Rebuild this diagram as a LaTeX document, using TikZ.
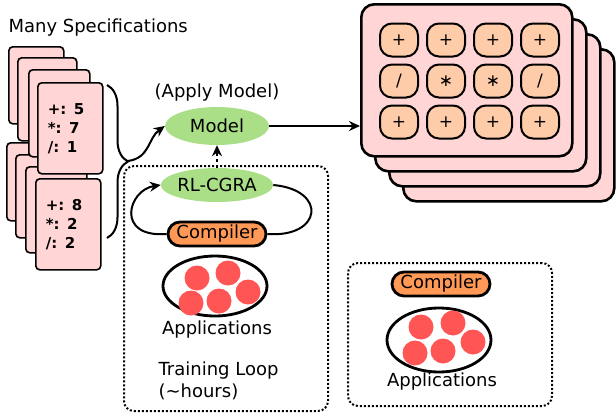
\documentclass[tikz,border=0pt]{standalone}
\usepackage{fontspec}
\setmainfont{DejaVu Sans}
\usetikzlibrary{arrows.meta,decorations.pathreplacing,shapes.geometric}

\definecolor{cardpink}{HTML}{FFD5D5}
\definecolor{modelgreen}{HTML}{AADE87}
\definecolor{comporange}{HTML}{FF9955}
\definecolor{appred}{HTML}{FF5555}
\definecolor{cellpeach}{HTML}{FFCCAA}

\tikzset{
  card/.style={draw, fill=cardpink, rounded corners=4pt, line width=1.6pt, anchor=north west, inner sep=0pt},
  spec/.style={card, inner xsep=10pt, text width=45pt, minimum height=91pt, align=left,
    font=\bfseries\fontsize{15}{19}\selectfont},
  panel/.style={draw, fill=cardpink, rounded corners=13pt, line width=2.6pt,
    minimum width=211pt, minimum height=152pt, anchor=north west},
  cell/.style={draw, fill=cellpeach, rounded corners=12pt, line width=2pt,
    minimum width=38pt, minimum height=33pt, font=\fontsize{17}{17}\selectfont},
  blob/.style={ellipse, fill=modelgreen, minimum width=104pt, minimum height=38pt, inner sep=0pt},
  pill/.style={draw, fill=comporange, rounded corners=12pt, line width=2.8pt,
    minimum width=98pt, minimum height=24pt, inner sep=0pt},
  apps/.style={draw, ellipse, line width=2.8pt, minimum width=104pt, minimum height=60pt},
  app/.style={circle, fill=appred, minimum size=25pt, inner sep=0pt},
  loopbox/.style={draw, dotted, line width=2pt, rounded corners=10pt, anchor=north west},
  flow/.style={line width=2pt, -{Stealth[length=11pt,width=10pt]}},
  lbl/.style={font=\fontsize{18}{22}\selectfont},
}

\begin{document}
\begin{tikzpicture}[x=1pt,y=-1pt]
\useasboundingbox (0,0) rectangle (616,418);

% specification cards, lower stack behind the upper one
\node[lbl, anchor=west] (many) at (5,28) {Many Specifications};
\node[card, minimum width=55pt, minimum height=78pt] (ba) at (6,142) {};
\node[card, minimum width=59pt, minimum height=83pt] (bb) at (15,154) {};
\node[card, minimum width=61pt, minimum height=86pt] (bc) at (25,166) {};
\node[card, minimum width=55pt, minimum height=77pt] (ta) at (8,46) {};
\node[card, minimum width=59pt, minimum height=83pt] (tb) at (17,57) {};
\node[card, minimum width=61pt, minimum height=87pt] (tc) at (28,69) {};
\node[spec] (specA) at (37,82) {+: 5\\{*}: 7\\/: 1};
\node[spec] (specB) at (35,178) {+: 8\\{*}: 2\\/: 2};

\draw[line width=2pt, decorate, decoration={brace, amplitude=21pt}] (107,85) -- (107,238);
\coordinate (bracetip) at (128,161);

% model and training loop
\node[lbl] (apply) at (217,93) {(Apply Model)};
\node[blob, lbl] (model) at (217,126) {Model};
\node[loopbox, minimum width=204pt, minimum height=245pt] (train) at (123,165) {};
\node[blob, lbl, minimum height=34pt] (rl) at (217,185) {RL-CGRA};
\node[pill, lbl] (comp) at (217,234) {Compiler};
\node[apps] (appsA) at (215,286) {};
\foreach \p [count=\i] in {(197,278),(228,273),(248,292),(219,301),(191,303)}
  \node[app] (a\i) at \p {};
\node[lbl] (appsAtxt) at (217,330) {Applications};
\node[lbl, anchor=west, align=left] (hours) at (155,381) {Training Loop\\(\textasciitilde hours)};

\draw[flow] (bracetip) .. controls (150,158) and (148,138) .. (model.west);
\draw[flow, dashed] (rl.north) -- (model.south);
\draw[flow] (comp.west) .. controls (115,238) and (128,190) .. (rl.west);
\draw[line width=2pt] (rl.east) .. controls (328,190) and (322,238) .. (comp.east);

% stacked CGRA panels
\node[panel] (p4) at (402,48) {};
\node[panel] (p3) at (388,33) {};
\node[panel] (p2) at (374,18) {};
\node[panel] (p1) at (360,3) {};
\foreach \s [count=\i from 0] in {+,+,+,+,/,∗,∗,/,+,+,+,+} {
  \pgfmathtruncatemacro{\col}{mod(\i,4)}
  \pgfmathtruncatemacro{\row}{int(\i/4)}
  \node[cell] (cell-\i) at (399+47*\col,40+41*\row) {\s};
}
\draw[flow] (model.east) -- (model.east -| p1.west);

% deployed compiler
\node[loopbox, minimum width=204pt, minimum height=143pt] (deploy) at (347,262) {};
\node[pill, lbl] (comp2) at (441,284) {Compiler};
\node[apps, minimum height=64pt] (appsB) at (439,340) {};
\foreach \p [count=\i] in {(421,327),(453,323),(473,342),(443,351),(415,353)}
  \node[app] (b\i) at \p {};
\node[lbl] (appsBtxt) at (442,382) {Applications};
\end{tikzpicture}
\end{document}
